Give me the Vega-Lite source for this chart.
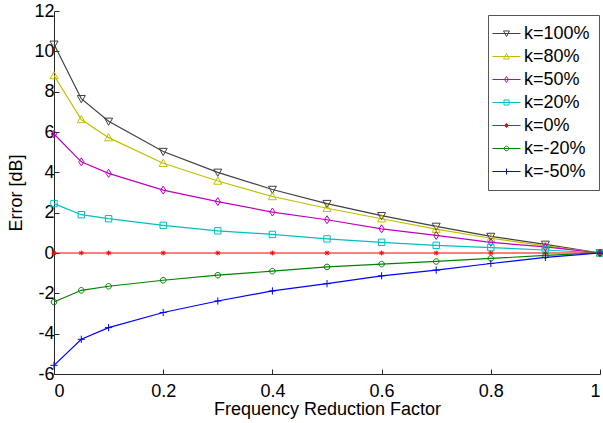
{
  "$schema": "https://vega.github.io/schema/vega-lite/v6.json",
  "width": 546,
  "height": 363,
  "autosize": "none",
  "padding": {"left": 54, "top": 11, "right": 3, "bottom": 49},
  "background": "white",
  "config": {
    "view": {"stroke": null},
    "font": "Liberation Sans",
    "axis": {
      "domainColor": "#262626",
      "tickColor": "#262626",
      "tickSize": -5,
      "labelFont": "Liberation Sans",
      "labelFontSize": 18,
      "labelColor": "black",
      "titleFont": "Liberation Sans",
      "titleFontSize": 18,
      "titleFontWeight": "normal",
      "titleColor": "black",
      "grid": false
    }
  },
  "data": {
    "values": [
      {"k": "k=100%", "x": 0, "y": 10.35}, {"k": "k=100%", "x": 0.05, "y": 7.65}, {"k": "k=100%", "x": 0.1, "y": 6.53}, {"k": "k=100%", "x": 0.2, "y": 5.03}, {"k": "k=100%", "x": 0.3, "y": 4.0}, {"k": "k=100%", "x": 0.4, "y": 3.15}, {"k": "k=100%", "x": 0.5, "y": 2.45}, {"k": "k=100%", "x": 0.6, "y": 1.85}, {"k": "k=100%", "x": 0.7, "y": 1.32}, {"k": "k=100%", "x": 0.8, "y": 0.82}, {"k": "k=100%", "x": 0.9, "y": 0.43}, {"k": "k=100%", "x": 1, "y": 0},
      {"k": "k=80%", "x": 0, "y": 8.8}, {"k": "k=80%", "x": 0.05, "y": 6.62}, {"k": "k=80%", "x": 0.1, "y": 5.72}, {"k": "k=80%", "x": 0.2, "y": 4.45}, {"k": "k=80%", "x": 0.3, "y": 3.57}, {"k": "k=80%", "x": 0.4, "y": 2.8}, {"k": "k=80%", "x": 0.5, "y": 2.22}, {"k": "k=80%", "x": 0.6, "y": 1.7}, {"k": "k=80%", "x": 0.7, "y": 1.18}, {"k": "k=80%", "x": 0.8, "y": 0.73}, {"k": "k=80%", "x": 0.9, "y": 0.35}, {"k": "k=80%", "x": 1, "y": 0},
      {"k": "k=50%", "x": 0, "y": 5.9}, {"k": "k=50%", "x": 0.05, "y": 4.52}, {"k": "k=50%", "x": 0.1, "y": 3.95}, {"k": "k=50%", "x": 0.2, "y": 3.12}, {"k": "k=50%", "x": 0.3, "y": 2.55}, {"k": "k=50%", "x": 0.4, "y": 2.03}, {"k": "k=50%", "x": 0.5, "y": 1.65}, {"k": "k=50%", "x": 0.6, "y": 1.2}, {"k": "k=50%", "x": 0.7, "y": 0.87}, {"k": "k=50%", "x": 0.8, "y": 0.53}, {"k": "k=50%", "x": 0.9, "y": 0.3}, {"k": "k=50%", "x": 1, "y": 0},
      {"k": "k=20%", "x": 0, "y": 2.45}, {"k": "k=20%", "x": 0.05, "y": 1.9}, {"k": "k=20%", "x": 0.1, "y": 1.7}, {"k": "k=20%", "x": 0.2, "y": 1.37}, {"k": "k=20%", "x": 0.3, "y": 1.1}, {"k": "k=20%", "x": 0.4, "y": 0.92}, {"k": "k=20%", "x": 0.5, "y": 0.7}, {"k": "k=20%", "x": 0.6, "y": 0.53}, {"k": "k=20%", "x": 0.7, "y": 0.38}, {"k": "k=20%", "x": 0.8, "y": 0.27}, {"k": "k=20%", "x": 0.9, "y": 0.15}, {"k": "k=20%", "x": 1, "y": 0},
      {"k": "k=0%", "x": 0, "y": 0}, {"k": "k=0%", "x": 0.05, "y": 0}, {"k": "k=0%", "x": 0.1, "y": 0}, {"k": "k=0%", "x": 0.2, "y": 0}, {"k": "k=0%", "x": 0.3, "y": 0}, {"k": "k=0%", "x": 0.4, "y": 0}, {"k": "k=0%", "x": 0.5, "y": 0}, {"k": "k=0%", "x": 0.6, "y": 0}, {"k": "k=0%", "x": 0.7, "y": 0}, {"k": "k=0%", "x": 0.8, "y": 0}, {"k": "k=0%", "x": 0.9, "y": 0}, {"k": "k=0%", "x": 1, "y": 0},
      {"k": "k=-20%", "x": 0, "y": -2.43}, {"k": "k=-20%", "x": 0.05, "y": -1.85}, {"k": "k=-20%", "x": 0.1, "y": -1.65}, {"k": "k=-20%", "x": 0.2, "y": -1.35}, {"k": "k=-20%", "x": 0.3, "y": -1.1}, {"k": "k=-20%", "x": 0.4, "y": -0.9}, {"k": "k=-20%", "x": 0.5, "y": -0.69}, {"k": "k=-20%", "x": 0.6, "y": -0.55}, {"k": "k=-20%", "x": 0.7, "y": -0.42}, {"k": "k=-20%", "x": 0.8, "y": -0.27}, {"k": "k=-20%", "x": 0.9, "y": -0.12}, {"k": "k=-20%", "x": 1, "y": 0},
      {"k": "k=-50%", "x": 0, "y": -5.57}, {"k": "k=-50%", "x": 0.05, "y": -4.28}, {"k": "k=-50%", "x": 0.1, "y": -3.7}, {"k": "k=-50%", "x": 0.2, "y": -2.95}, {"k": "k=-50%", "x": 0.3, "y": -2.38}, {"k": "k=-50%", "x": 0.4, "y": -1.88}, {"k": "k=-50%", "x": 0.5, "y": -1.52}, {"k": "k=-50%", "x": 0.6, "y": -1.13}, {"k": "k=-50%", "x": 0.7, "y": -0.85}, {"k": "k=-50%", "x": 0.8, "y": -0.52}, {"k": "k=-50%", "x": 0.9, "y": -0.22}, {"k": "k=-50%", "x": 1, "y": 0}
    ]
  },
  "encoding": {
    "x": {
      "field": "x", "type": "quantitative",
      "scale": {"domain": [0, 1], "nice": false, "zero": false},
      "axis": {"values": [0, 0.2, 0.4, 0.6, 0.8, 1], "format": "~g", "title": "Frequency Reduction Factor", "labelPadding": 13, "titlePadding": 0}
    },
    "y": {
      "field": "y", "type": "quantitative",
      "scale": {"domain": [-6, 12], "nice": false, "zero": false},
      "axis": {"values": [-6, -4, -2, 0, 2, 4, 6, 8, 10, 12], "format": "~g", "labelExpr": "replace(datum.label, '\u2212', '-')", "title": "Error [dB]", "labelPadding": 5, "titlePadding": 8}
    }
  },
  "layer": [
    {
      "mark": {"type": "line", "strokeWidth": 1.2},
      "encoding": {
        "color": {
          "field": "k", "type": "nominal",
          "scale": {
            "domain": ["k=100%", "k=80%", "k=50%", "k=20%", "k=0%", "k=-20%", "k=-50%"],
            "range": ["#404040", "#bfbf00", "#bf00bf", "#00bfbf", "#ff0000", "#008000", "#0000ff"]
          },
          "legend": {
            "title": null,
            "orient": "none",
            "legendX": 434,
            "legendY": 4,
            "strokeColor": "#555555",
            "fillColor": "white",
            "padding": 9,
            "symbolSize": 324,
            "symbolStrokeWidth": 1,
            "symbolFillColor": "transparent",
            "symbolType": {"expr": "datum.value === 'k=100%' ? 'M-1.556,0H1.556M-0.33,-0.28L0.33,-0.28L0,0.33Z' : datum.value === 'k=80%' ? 'M-1.556,0H1.556M-0.33,0.28L0.33,0.28L0,-0.33Z' : datum.value === 'k=50%' ? 'M-1.556,0H1.556M0,-0.33L0.22,0L0,0.33L-0.22,0Z' : datum.value === 'k=20%' ? 'M-1.556,0H1.556M-0.28,-0.28H0.28V0.28H-0.28Z' : datum.value === 'k=0%' ? 'M-1.556,0H1.556M0,-0.25V0.25M-0.18,-0.18L0.18,0.18M-0.18,0.18L0.18,-0.18' : datum.value === 'k=-20%' ? 'M-1.556,0H1.556M0.25,0A0.25,0.25,0,1,1,-0.25,0A0.25,0.25,0,1,1,0.25,0Z' : 'M-1.556,0H1.556M0,-0.33V0.33'"},
            "labelFont": "Liberation Sans",
            "labelFontSize": 18,
            "labelColor": "black",
            "labelOffset": 8,
            "rowPadding": 4
          }
        }
      }
    },
    {
      "transform": [{"filter": "datum.k === 'k=100%'"}],
      "mark": {"type": "point", "filled": false, "size": 64, "strokeWidth": 1, "opacity": 1, "color": "#404040", "shape": "M-1,-0.8L1,-0.8L0,1Z"}
    },
    {
      "transform": [{"filter": "datum.k === 'k=80%'"}],
      "mark": {"type": "point", "filled": false, "size": 64, "strokeWidth": 1, "opacity": 1, "color": "#bfbf00", "shape": "M-1,0.8L1,0.8L0,-1Z"}
    },
    {
      "transform": [{"filter": "datum.k === 'k=50%'"}],
      "mark": {"type": "point", "filled": false, "size": 64, "strokeWidth": 1, "opacity": 1, "color": "#bf00bf", "shape": "M0,-1L0.65,0L0,1L-0.65,0Z"}
    },
    {
      "transform": [{"filter": "datum.k === 'k=20%'"}],
      "mark": {"type": "point", "filled": false, "size": 64, "strokeWidth": 1, "opacity": 1, "color": "#00bfbf", "shape": "M-0.8,-0.8H0.8V0.8H-0.8Z"}
    },
    {
      "transform": [{"filter": "datum.k === 'k=0%'"}],
      "mark": {"type": "point", "filled": false, "size": 64, "strokeWidth": 1, "opacity": 1, "color": "#ff0000", "shape": "M-0.6,0H0.6M0,-0.6V0.6M-0.45,-0.45L0.45,0.45M-0.45,0.45L0.45,-0.45"}
    },
    {
      "transform": [{"filter": "datum.k === 'k=-20%'"}],
      "mark": {"type": "point", "filled": false, "size": 64, "strokeWidth": 1, "opacity": 1, "color": "#008000", "shape": "M0.7,0A0.7,0.7,0,1,1,-0.7,0A0.7,0.7,0,1,1,0.7,0Z"}
    },
    {
      "transform": [{"filter": "datum.k === 'k=-50%'"}],
      "mark": {"type": "point", "filled": false, "size": 64, "strokeWidth": 1, "opacity": 1, "color": "#0000ff", "shape": "M-0.9,0H0.9M0,-0.9V0.9"}
    }
  ]
}
